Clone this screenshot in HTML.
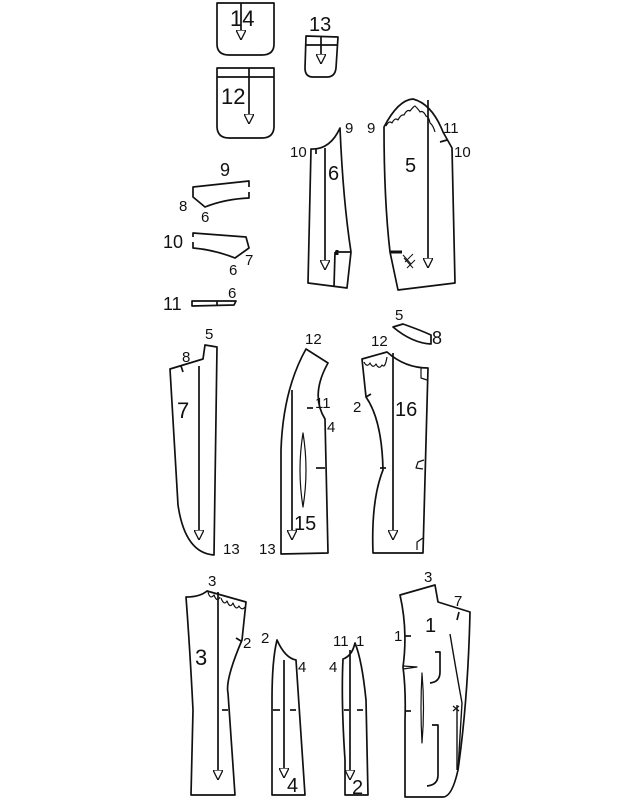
<!DOCTYPE html>
<html><head><meta charset="utf-8"><style>
html,body{margin:0;padding:0;background:#fff;}
svg{display:block}
text{font-family:"Liberation Sans",sans-serif;fill:#111}
</style></head><body>
<svg width="637" height="800" viewBox="0 0 637 800" xmlns="http://www.w3.org/2000/svg">
<defs>
<marker id="a" viewBox="0 0 10 10" refX="10" refY="5" markerWidth="10" markerHeight="10" orient="auto" markerUnits="userSpaceOnUse">
<path d="M0,0 L10,5 L0,10 Z" fill="#fff" stroke="#111" stroke-width="1.3"/>
</marker>
</defs>
<g fill="none" stroke="#111" stroke-width="1.7" stroke-linejoin="round">
<!-- 14 -->
<path d="M217,3 L274,3 L274,44 Q274,55 262,55 L229,55 Q217,55 217,44 Z"/>
<line x1="241" y1="3" x2="241" y2="40" marker-end="url(#a)"/>
<!-- 13 -->
<path d="M306,36 L338,37 L336,68 Q335,77 327,77 L313,77 Q305,77 305,68 Z"/>
<line x1="306" y1="45" x2="337" y2="45"/>
<line x1="321" y1="36" x2="321" y2="64" marker-end="url(#a)"/>
<!-- 12 -->
<path d="M217,68 L274,68 L274,126 Q274,138 262,138 L229,138 Q217,138 217,126 Z"/>
<line x1="217" y1="77" x2="274" y2="77"/>
<line x1="249" y1="68" x2="249" y2="124" marker-end="url(#a)"/>
<!-- 9 small -->
<path d="M249,187 L249,181 L193,187 L193,197 L205,207 Q225,199 249,198 L249,192"/>
<!-- 10 small -->
<path d="M193,237 L193,233 L246,237 L249,248 L235,258 Q215,250 193,248 L193,242"/>
<!-- 11 small -->
<path d="M192,301 L236,301 L234,305 L192,306 Z"/>
<line x1="217" y1="301" x2="217" y2="306"/>
<!-- 6 -->
<path d="M311,149 Q330,150 340,128 Q343,200 351,252 L347,288 L308,283 Z"/>
<path d="M335,252 L351,252 M335,252 L334,287"/>
<line x1="337" y1="250" x2="337" y2="255" stroke-width="3"/>
<line x1="316" y1="149" x2="316" y2="154"/>
<line x1="325" y1="148" x2="325" y2="270" marker-end="url(#a)"/>
<!-- 5 -->
<path d="M384,127 Q398,100 413,99 Q432,104 443,132 L452,148 L455,283 L398,290 L390,252 Q384,200 384,127 Z"/>
<path d="M386,126 q3,-6 6,-3 q3,-6 6,-3 q3,-6 6,-5 q3,-6 6,-4 q4,-5 5,-5 q4,4 5,6 q3,-2 6,4 q3,1 4,7 q3,2 5,9" stroke-width="1.2"/>
<line x1="440" y1="142" x2="447" y2="140"/>
<path d="M390,252 L402,252" stroke-width="3"/>
<path d="M403,255 l8,9 M405,262 l8,-8 M407,268 l8,-8 M404,258 l9,10" stroke-width="1"/>
<line x1="428" y1="100" x2="428" y2="268" marker-end="url(#a)"/>
<!-- 8 collar -->
<path d="M393,327 L403,324 Q420,330 431,335 L431,344 Q412,343 393,327 Z"/>
<!-- 7 -->
<path d="M170,369 L203,359 L205,345 L217,347 L214,555 Q185,553 178,505 L170,369 Z"/>
<line x1="181" y1="366" x2="183" y2="372"/>
<line x1="199" y1="366" x2="199" y2="540" marker-end="url(#a)"/>
<!-- 15 -->
<path d="M306,349 L328,363 Q310,395 325,419 L328,553 L281,554 L281,450 Q283,390 306,349 Z"/>
<path d="M303,433 Q309,470 303,507 Q297,470 303,433 Z" stroke-width="1.2"/>
<line x1="307" y1="408" x2="313" y2="408"/>
<line x1="316" y1="468" x2="325" y2="468"/>
<line x1="292" y1="390" x2="292" y2="540" marker-end="url(#a)"/>
<!-- 16 -->
<path d="M362,359 L387,352 Q405,368 428,368 L423,553 L373,553 Q371,500 383,470 Q382,420 366,397 Z"/>
<path d="M364,362 q3,6 6,1 q3,6 6,1 q3,6 6,1 q3,4 5,-8" stroke-width="1.2"/>
<path d="M421,368 L421,378 L427,380" stroke-width="1.2"/>
<path d="M424,460 L418,462 L416,468 L423,469" stroke-width="1.2"/>
<path d="M423,538 L417,542 L417,550" stroke-width="1.2"/>
<line x1="366" y1="397" x2="371" y2="394"/>
<line x1="380" y1="468" x2="386" y2="468"/>
<line x1="393" y1="353" x2="393" y2="540" marker-end="url(#a)"/>
<!-- 3 -->
<path d="M186,597 Q200,597 207,591 L246,602 L242,640 Q225,680 228,693 L235,795 L191,795 L193,710 Q190,650 186,597 Z"/>
<path d="M208,592 q2,8 6,3 q3,8 6,2 M221,598 q3,8 6,3 q3,8 6,2 q3,8 6,3 q3,5 6,1" stroke-width="1.2"/>
<line x1="236" y1="638" x2="241" y2="641"/>
<line x1="222" y1="710" x2="228" y2="710"/>
<line x1="218" y1="592" x2="218" y2="780" marker-end="url(#a)"/>
<!-- 4 -->
<path d="M277,640 Q285,658 296,660 L305,795 L272,795 L272,700 Q272,660 277,640 Z"/>
<line x1="273" y1="710" x2="280" y2="710"/>
<line x1="290" y1="710" x2="296" y2="710"/>
<line x1="284" y1="660" x2="284" y2="778" marker-end="url(#a)"/>
<!-- 2 -->
<path d="M355,643 Q352,656 343,659 Q341,700 345,760 L345,795 L368,795 L366,700 Q362,660 355,643 Z"/>
<line x1="344" y1="710" x2="349" y2="710"/>
<line x1="357" y1="710" x2="363" y2="710"/>
<line x1="350" y1="650" x2="350" y2="780" marker-end="url(#a)"/>
<!-- 1 -->
<path d="M400,595 L435,585 L438,602 L470,612 Q468,700 458,770 Q452,797 443,797 L405,797 L405,720 Q406,690 403,667 Q408,630 400,595 Z"/>
<path d="M403,666 L417,667 L403,669" stroke-width="1.2"/>
<line x1="405" y1="636" x2="411" y2="636"/>
<line x1="405" y1="711" x2="411" y2="711"/>
<line x1="459" y1="612" x2="457" y2="620"/>
<path d="M450,634 Q456,670 462,703 L458,770" stroke-width="1.4"/>
<line x1="457" y1="705" x2="457" y2="770" stroke-width="1.4"/>
<path d="M453,706 l6,5 M459,706 l-6,5" stroke-width="1.2"/>
<path d="M435,652 L440,652 L440,672 Q440,682 430,683"/>
<path d="M432,725 L438,725 L438,775 Q438,785 427,786"/>
<path d="M422,673 Q425,708 422,743 Q420,708 422,673 Z" stroke-width="1.2"/>
</g>
<g font-size="15">
<text x="230" y="26" font-size="22">14</text>
<text x="309" y="31" font-size="20">13</text>
<text x="221" y="104" font-size="22">12</text>
<text x="220" y="176" font-size="18">9</text>
<text x="179" y="211">8</text>
<text x="201" y="222">6</text>
<text x="163" y="248" font-size="18">10</text>
<text x="229" y="275">6</text>
<text x="245" y="265">7</text>
<text x="163" y="310" font-size="18">11</text>
<text x="228" y="298">6</text>
<text x="345" y="133">9</text>
<text x="290" y="157">10</text>
<text x="328" y="180" font-size="20">6</text>
<text x="367" y="133">9</text>
<text x="443" y="133">11</text>
<text x="454" y="157">10</text>
<text x="405" y="172" font-size="20">5</text>
<text x="395" y="320">5</text>
<text x="432" y="344" font-size="18">8</text>
<text x="205" y="339">5</text>
<text x="182" y="362">8</text>
<text x="177" y="418" font-size="22">7</text>
<text x="223" y="554">13</text>
<text x="305" y="344">12</text>
<text x="315" y="408">11</text>
<text x="327" y="432">4</text>
<text x="294" y="530" font-size="20">15</text>
<text x="259" y="554">13</text>
<text x="371" y="346">12</text>
<text x="353" y="412">2</text>
<text x="395" y="416" font-size="20">16</text>
<text x="208" y="586">3</text>
<text x="195" y="665" font-size="22">3</text>
<text x="243" y="648">2</text>
<text x="261" y="643">2</text>
<text x="298" y="672">4</text>
<text x="287" y="792" font-size="20">4</text>
<text x="333" y="646">11</text>
<text x="356" y="646">1</text>
<text x="329" y="672">4</text>
<text x="352" y="794" font-size="20">2</text>
<text x="424" y="582">3</text>
<text x="454" y="606">7</text>
<text x="425" y="632" font-size="20">1</text>
<text x="394" y="641">1</text>
</g>
</svg>
</body></html>
